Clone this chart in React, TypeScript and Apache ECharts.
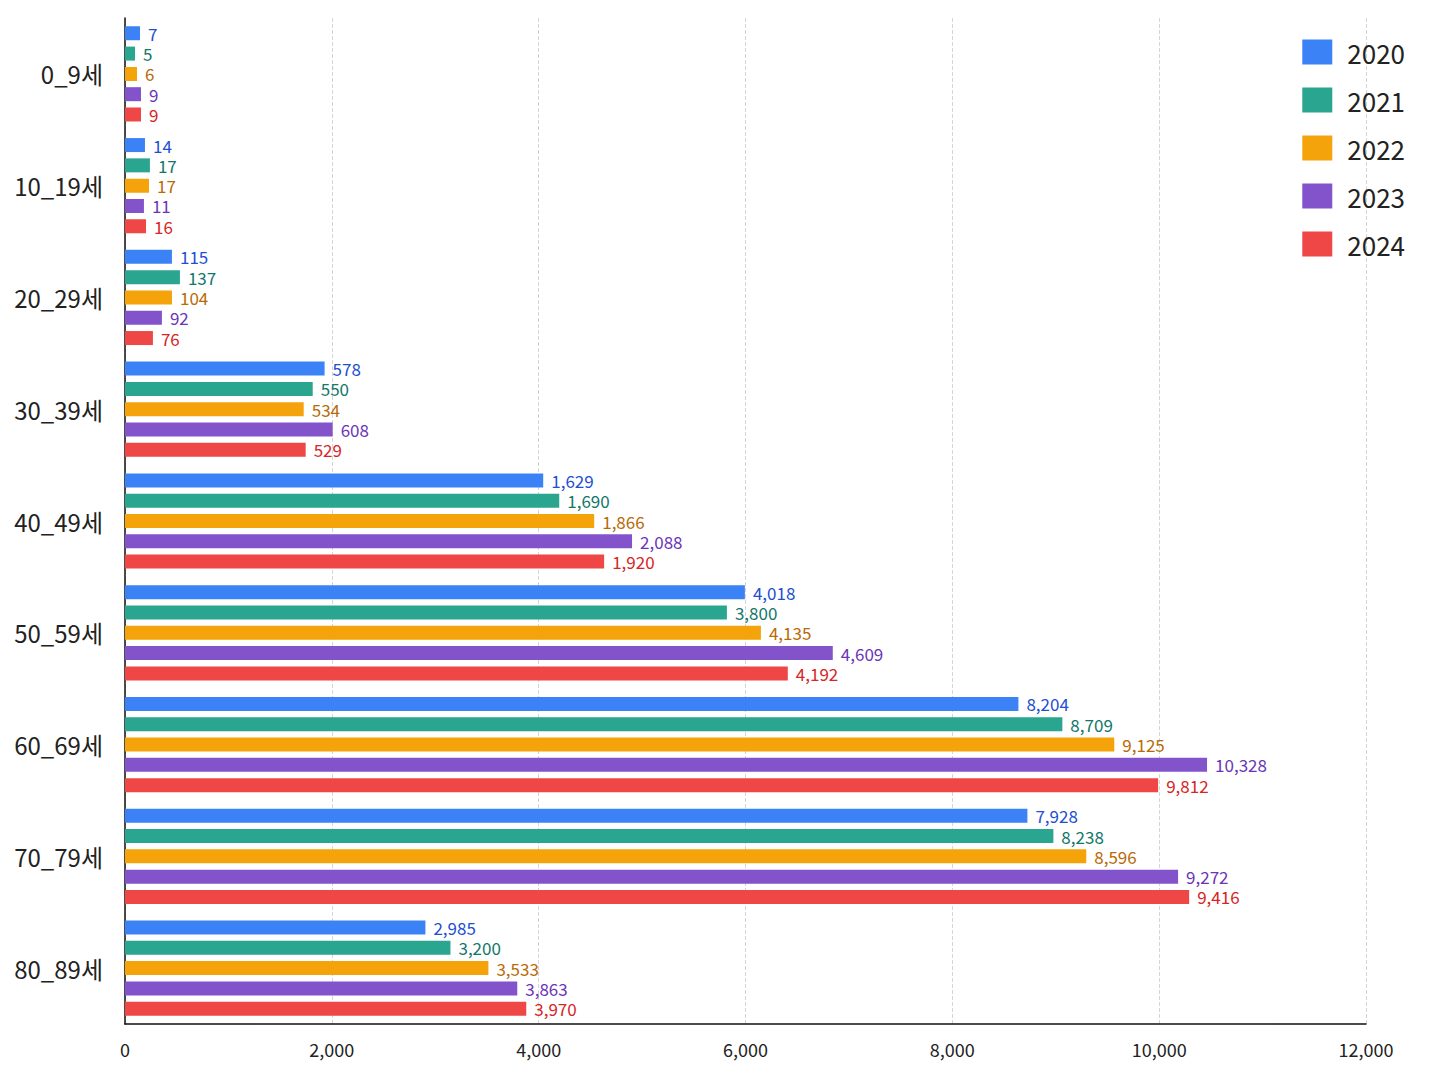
import { useEffect, useRef } from "react";
import * as echarts from "echarts";

const categories = ["0_9세", "10_19세", "20_29세", "30_39세", "40_49세", "50_59세", "60_69세", "70_79세", "80_89세"];
const years = ["2020", "2021", "2022", "2023", "2024"];
const colors = ["#3b82f6", "#2aa58f", "#f5a30a", "#8353cc", "#ef4646"];
const labelColors = ["#1d4fd0", "#13776a", "#b86a06", "#6a35b8", "#d62525"];

// bar lengths as drawn in the picture
const bars2020 = [145, 193, 454, 1930, 4044, 5994, 8639, 8726, 2905];
const bars2021 = [97, 241, 531, 1815, 4199, 5820, 9064, 8977, 3147];
const bars2022 = [116, 232, 454, 1728, 4537, 6149, 9566, 9295, 3514];
const bars2023 = [155, 183, 357, 2008, 4903, 6844, 10463, 10183, 3793];
const bars2024 = [155, 203, 270, 1747, 4633, 6409, 9990, 10290, 3880];

// printed value labels
const labels2020 = [7, 14, 115, 578, 1629, 4018, 8204, 7928, 2985];
const labels2021 = [5, 17, 137, 550, 1690, 3800, 8709, 8238, 3200];
const labels2022 = [6, 17, 104, 534, 1866, 4135, 9125, 8596, 3533];
const labels2023 = [9, 11, 92, 608, 2088, 4609, 10328, 9272, 3863];
const labels2024 = [9, 16, 76, 529, 1920, 4192, 9812, 9416, 3970];

const barSets = [bars2020, bars2021, bars2022, bars2023, bars2024];
const labelSets = [labels2020, labels2021, labels2022, labels2023, labels2024];

const font = "'Noto Sans CJK KR', 'Noto Sans', sans-serif";

export default function App() {
  const ref = useRef<HTMLDivElement>(null);

  useEffect(() => {
    if (!ref.current) return;
    const chart = echarts.init(ref.current, undefined, { renderer: "svg" });
    chart.setOption({
      animation: false,
      backgroundColor: "#ffffff",
      textStyle: { fontFamily: font },
      grid: { left: 117, right: 74, top: 10, bottom: 54 },
      legend: {
        orient: "vertical",
        right: 30,
        top: 26,
        itemWidth: 30,
        itemHeight: 25,
        itemGap: 22,
        icon: "rect",
        textStyle: { fontSize: 26, color: "#222", fontFamily: font, padding: [0, 0, 0, 10] },
        data: years,
      },
      xAxis: {
        type: "value",
        min: 0,
        max: 12000,
        interval: 2000,
        axisLine: { show: true, lineStyle: { color: "#111", width: 1.5 } },
        axisTick: { show: false },
        axisLabel: { fontSize: 18, color: "#222", margin: 16, formatter: (v: number) => v.toLocaleString("en-US") },
        splitLine: { show: true, lineStyle: { type: "dashed", color: "#d5d5d5" } },
      },
      yAxis: {
        type: "category",
        inverse: true,
        data: categories,
        axisLine: { show: true, lineStyle: { color: "#111", width: 1.5 } },
        axisTick: { show: false },
        axisLabel: { fontSize: 24, color: "#222", margin: 22 },
      },
      series: years.map((y, i) => ({
        name: y,
        type: "bar",
        data: barSets[i],
        barWidth: 14,
        barGap: "45%",
        itemStyle: { color: colors[i] },
        label: {
          show: true,
          position: "right",
          distance: 8,
          fontSize: 17,
          lineHeight: 18,
          color: labelColors[i],
          formatter: (p: { dataIndex: number }) => labelSets[i][p.dataIndex].toLocaleString("en-US"),
        },
      })),
    });
    return () => chart.dispose();
  }, []);

  return <div ref={ref} style={{ width: 1432, height: 1070 }} />;
}
